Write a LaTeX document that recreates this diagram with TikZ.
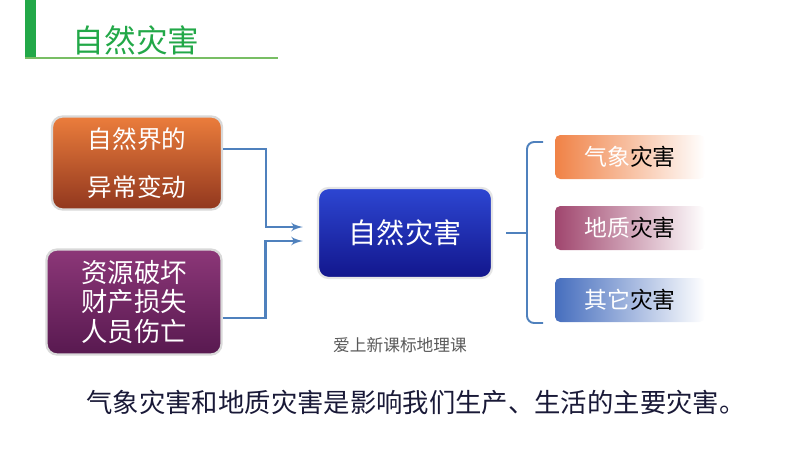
\documentclass[tikz,border=0pt]{standalone}
\usepackage{fontspec}
\setmainfont{Noto Sans CJK SC}
\usepackage{xcolor}
\usepackage{tikz}
\usetikzlibrary{shapes,arrows}
\definecolor{titlegreen}{RGB}{34,168,72}
\definecolor{rulegreen}{RGB}{120,190,100}
\definecolor{linkblue}{RGB}{79,129,189}
\definecolor{textnavy}{RGB}{25,25,55}
\tikzstyle{cause} = [rectangle, rounded corners=6pt, draw=gray!30, line width=1.3pt, text=white, align=center]
\tikzstyle{hub} = [rectangle, rounded corners=6pt, draw=gray!20, line width=1.3pt, text=white, minimum width=3.48cm, minimum height=1.8cm, top color={rgb,255:red,45;green,70;blue,210}, bottom color={rgb,255:red,18;green,22;blue,140}, font=\fontsize{16}{18}\selectfont]
\tikzstyle{kind} = [rectangle, rounded corners=3pt, minimum width=3cm, minimum height=0.88cm, right color=white, font=\fontsize{13}{15}\selectfont]
\tikzstyle{line} = [draw, -latex', line width=1.3pt, color=linkblue]
\tikzstyle{brace} = [draw, line width=1.1pt, color=linkblue, rounded corners=4pt]

\begin{document}
\begin{tikzpicture}[x=0.02cm, y=-0.02cm]
    \useasboundingbox (0,0) rectangle (800,450);
    \fill[titlegreen] (25,0) rectangle (36,58);
    \draw[rulegreen, line width=0.8pt] (25,58) -- (278,58);
    \node[text=titlegreen, font=\fontsize{18}{20}\selectfont] (title) at (136,40) {自然灾害};

    \node [cause, minimum width=3.4cm, minimum height=1.86cm, top color={rgb,255:red,235;green,125;blue,60}, bottom color={rgb,255:red,145;green,55;blue,30}, font=\fontsize{14}{27}\selectfont] (nature) at (137,163) {自然界的\\异常变动};
    \node [cause, minimum width=3.5cm, minimum height=2.1cm, top color={rgb,255:red,140;green,55;blue,120}, bottom color={rgb,255:red,88;green,25;blue,80}, font=\fontsize{15}{17}\selectfont] (loss) at (134,302) {资源破坏\\财产损失\\人员伤亡};
    \node [hub] (disaster) at (405,233) {自然灾害};

    \node [kind, left color={rgb,255:red,240;green,130;blue,70}] (weather) at (630,157) {{\color{white}气象}灾害};
    \node [kind, left color={rgb,255:red,160;green,70;blue,110}] (geology) at (630,228) {{\color{white}地质}灾害};
    \node [kind, left color={rgb,255:red,70;green,110;blue,190}] (other) at (630,300) {{\color{white}其它}灾害};

    \coordinate (brtop) at (543,142);
    \coordinate (brmid) at (527,233);
    \coordinate (brbot) at (543,323);

    \path [line] ([yshift=0.28cm]nature.east) -- ++(43,0) |- ([yshift=0.12cm, xshift=-0.28cm]disaster.west);
    \path [line] ([yshift=-0.32cm]loss.east) -- ++(43,0) |- ([yshift=-0.16cm, xshift=-0.28cm]disaster.west);
    \path [brace] (brtop) -- (527,142) -- (527,323) -- (brbot);
    \path [brace] ([xshift=0.26cm]disaster.east) -- (brmid);

    \node[text=black!65, font=\fontsize{9.5}{11}\selectfont] (credit) at (400,345) {爱上新课标地理课};
    \node[text=textnavy, font=\fontsize{15}{17}\selectfont] (summary) at (416,402) {气象灾害和地质灾害是影响我们生产、生活的主要灾害。};
\end{tikzpicture}
\end{document}
